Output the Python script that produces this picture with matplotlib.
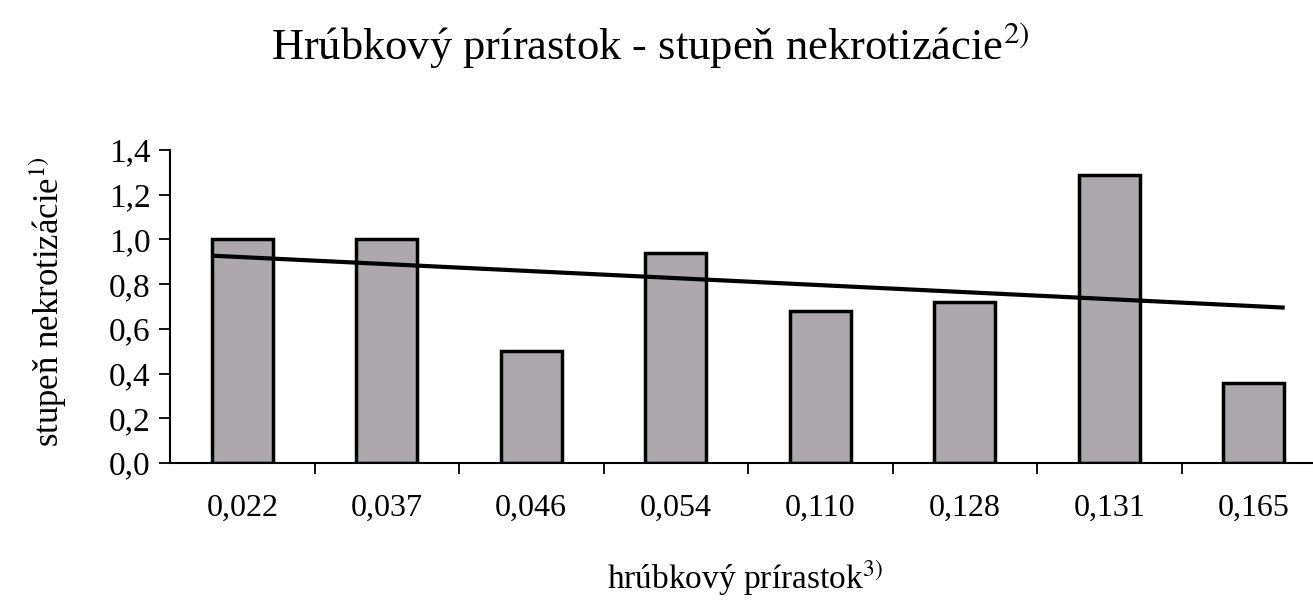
import matplotlib
matplotlib.use("Agg")
import matplotlib.pyplot as plt
import numpy as np

categories = ["0,022", "0,037", "0,046", "0,054", "0,110", "0,128", "0,131", "0,165"]
values = [1.00, 1.00, 0.50, 0.94, 0.68, 0.72, 1.29, 0.36]
yticks = [0.0, 0.2, 0.4, 0.6, 0.8, 1.0, 1.2, 1.4]
ytick_labels = ["0,0", "0,2", "0,4", "0,6", "0,8", "1,0", "1,2", "1,4"]

title = "Hrúbkový prírastok - stupeň nekrotizácie$^{2)}$"
xlabel = "hrúbkový prírastok$^{3)}$"
ylabel = "stupeň nekrotizácie$^{1)}$"

plt.rcParams['font.family'] = ['Liberation Serif', 'DejaVu Serif']
plt.rcParams['mathtext.fontset'] = 'stix'

fig = plt.figure(figsize=(13.13, 6.01), dpi=100)
ax = fig.add_axes([170/1313, 138/601, 1156/1313, 313/601])

x = np.arange(len(categories))
ax.bar(x, values, width=0.42, color="#aca8ac", edgecolor="black", linewidth=2.5, zorder=2)

# linear trendline
coef = np.polyfit(x, values, 1)
xt = np.array([x[0] - 0.2, x[-1] + 0.2])
ax.plot(xt, np.polyval(coef, xt), color="black", linewidth=3, zorder=3)

ax.set_xlim(-0.5, len(categories) - 0.5)
ax.set_ylim(0, 1.4)
ax.set_yticks(yticks)
ax.set_yticklabels(ytick_labels, fontsize=24)
ax.set_xticks(x + 0.5, minor=False)
ax.set_xticklabels([])
ax.set_xticks(x, minor=True)
ax.set_xticklabels(categories, minor=True, fontsize=23)
ax.tick_params(axis='x', which='major', direction='out', length=8, width=1.3)
ax.tick_params(axis='x', which='minor', length=0, pad=22)
ax.tick_params(axis='y', direction='out', length=8, width=1.3, pad=6)

for s in ['top', 'right']:
    ax.spines[s].set_visible(False)
for s in ['left', 'bottom']:
    ax.spines[s].set_linewidth(1.5)

fig.text(48/1313, 1 - 302/601, ylabel, fontsize=25, rotation=90, ha='center', va='center')
fig.text(745/1313, 1 - 578/601, xlabel, fontsize=24, ha='center', va='center')
fig.text(650/1313, 1 - 45/601, title, fontsize=32, ha='center', va='center')

fig.savefig("out.png", dpi=100)
